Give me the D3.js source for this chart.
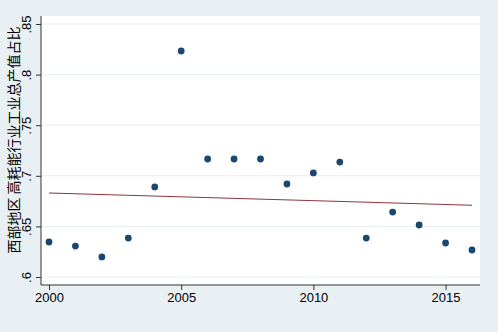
<!DOCTYPE html>
<html>
<head>
<meta charset="utf-8">
<script src="https://cdn.jsdelivr.net/npm/d3@7"></script>
<style>
  body { margin: 0; background: #e9f0f3; }
  svg { display: block; font-family: "Liberation Sans", Arial, sans-serif; }
</style>
</head>
<body>
<svg id="chart" width="498" height="332"></svg>
<script>
// data
var years = [2000, 2001, 2002, 2003, 2004, 2005, 2006, 2007, 2008, 2009, 2010, 2011, 2012, 2013, 2014, 2015, 2016];
var shares = [0.6346, 0.6306, 0.6198, 0.6385, 0.689, 0.8233, 0.7166, 0.7166, 0.7166, 0.6919, 0.7028, 0.7136, 0.6385, 0.6642, 0.6514, 0.6336, 0.6267];
var yTicks = [0.6, 0.65, 0.7, 0.75, 0.8, 0.85];
var yTickLabels = [".6", ".65", ".7", ".75", ".8", ".85"];
var xTicks = [2000, 2005, 2010, 2015];
var yTitle = "西部地区 高耗能行业工业总产值占比";

var svg = d3.select('#chart');
var W = 498, H = 332;
var plot = {left: 41, top: 16, right: 480, bottom: 285};

svg.append('rect').attr('width', W).attr('height', H).attr('fill', '#e9f0f3');
svg.append('rect')
    .attr('x', plot.left).attr('y', plot.top)
    .attr('width', plot.right - plot.left).attr('height', plot.bottom - plot.top)
    .attr('fill', '#ffffff');

var x = d3.scaleLinear().domain([2000, 2016]).range([49, 472]);
var y = d3.scaleLinear().domain([0.6, 0.85]).range([277, 24]);

// grid lines
svg.append('g').selectAll('line')
    .data(yTicks)
    .enter()
    .append('line')
    .attr('x1', plot.left).attr('x2', plot.right)
    .attr('y1', function(d) { return y(d); })
    .attr('y2', function(d) { return y(d); })
    .attr('stroke', '#e6eff1')
    .attr('stroke-width', 1);

// linear fit from the points
var n = years.length;
var mx = d3.mean(years), my = d3.mean(shares);
var sxy = 0, sxx = 0;
for (var i = 0; i < n; i++) {
    sxy += (years[i] - mx) * (shares[i] - my);
    sxx += (years[i] - mx) * (years[i] - mx);
}
var slope = sxy / sxx;
var icpt = my - slope * mx;
var fit = [years[0], years[n - 1]].map(function(t) { return [t, icpt + slope * t]; });

svg.append('path')
    .datum(fit)
    .attr('d', d3.line().x(function(d) { return x(d[0]); }).y(function(d) { return y(d[1]); }))
    .attr('stroke', '#90353b')
    .attr('stroke-width', 1.1)
    .attr('fill', 'none');

// points
svg.append('g').selectAll('circle')
    .data(years)
    .enter()
    .append('circle')
    .attr('cx', function(d) { return x(d); })
    .attr('cy', function(d, i) { return y(shares[i]); })
    .attr('r', 3.4)
    .attr('fill', '#1a476f');

// y axis
var yAxis = d3.axisLeft(y)
    .tickValues(yTicks)
    .tickSize(5)
    .tickFormat(function(d, i) { return yTickLabels[i]; });
var gy = svg.append('g').attr('transform', 'translate(' + plot.left + ',0)').call(yAxis);
gy.select('.domain').attr('d', 'M0,' + plot.top + 'V' + plot.bottom);
gy.selectAll('text')
    .attr('transform', 'translate(-10,0) rotate(-90)')
    .attr('x', 0)
    .attr('y', 0)
    .attr('dy', 0)
    .attr('text-anchor', 'middle')
    .attr('font-size', 13)
    .attr('fill', '#000');

// x axis
var xAxis = d3.axisBottom(x).tickValues(xTicks).tickSize(5).tickFormat(d3.format('d'));
var gx = svg.append('g').attr('transform', 'translate(0,' + plot.bottom + ')').call(xAxis);
gx.select('.domain').attr('d', 'M' + plot.left + ',0H' + plot.right);
gx.selectAll('text').attr('font-size', 13).attr('fill', '#000').attr('y', 8);

svg.selectAll('.domain, .tick line').attr('stroke', '#333').attr('stroke-width', 1);

// y title
svg.append('text')
    .attr('transform', 'translate(19,' + 140 + ') rotate(-90)')
    .attr('text-anchor', 'middle')
    .attr('font-family', '"Noto Sans CJK SC", sans-serif')
    .attr('font-size', 14)
    .attr('fill', '#000')
    .text(yTitle);
</script>
</body>
</html>
